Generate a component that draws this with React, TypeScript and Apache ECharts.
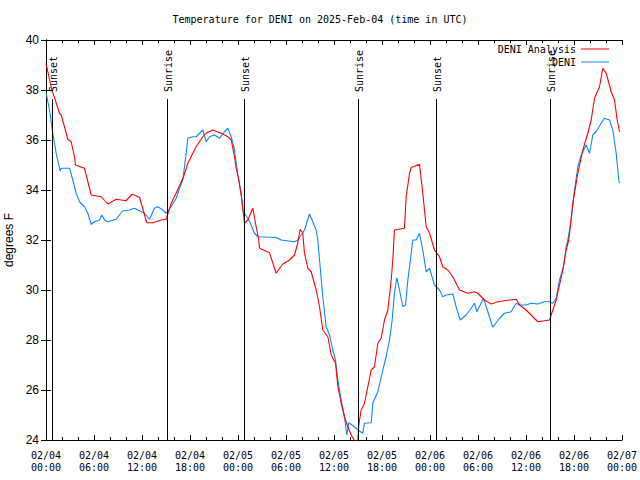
import React, { useEffect, useRef } from 'react';
import * as echarts from 'echarts';

const titleText = 'Temperature for DENI on 2025-Feb-04 (time in UTC)';
const xTickDates = ['02/04', '02/04', '02/04', '02/04', '02/05', '02/05', '02/05', '02/05', '02/06', '02/06', '02/06', '02/06', '02/07'];
const xTickTimes = ['00:00', '06:00', '12:00', '18:00', '00:00', '06:00', '12:00', '18:00', '00:00', '06:00', '12:00', '18:00', '00:00'];

// [hours since 02/04 00:00 UTC, degrees F]
const analysisData: [number, number][] = [
  [0.0, 39.07], [0.73, 38.0], [1.06, 37.7], [1.69, 37.07], [1.9, 37.0], [2.31, 36.53], [2.73, 36.03], [3.15, 35.93],
  [3.56, 35.33], [3.69, 35.0], [4.81, 34.87], [5.65, 33.8], [6.9, 33.73], [7.73, 33.44], [8.77, 33.63], [10.0, 33.57],
  [10.77, 33.83], [11.69, 33.71], [12.6, 32.69], [13.35, 32.69], [14.4, 32.8], [15.02, 32.83], [15.65, 33.47], [16.3, 33.9],
  [17.19, 34.53], [17.73, 35.07], [18.35, 35.47], [18.77, 35.73], [19.6, 36.13], [20.0, 36.27], [20.85, 36.4], [21.9, 36.27],
  [22.73, 36.13], [23.15, 36.0], [23.56, 35.33], [23.77, 34.87], [24.1, 34.4], [24.48, 33.6], [24.81, 32.67], [25.23, 32.8],
  [25.85, 33.27], [26.27, 32.53], [26.6, 32.0], [26.69, 31.67], [27.94, 31.49], [28.77, 30.67], [29.6, 31.04], [30.44, 31.2],
  [31.06, 31.4], [31.48, 31.89], [31.77, 32.43], [32.1, 32.27], [32.31, 31.47], [32.73, 30.87], [33.15, 30.73], [33.77, 30.0],
  [34.19, 29.33], [34.6, 28.4], [35.23, 28.13], [35.65, 27.4], [36.19, 27.07], [36.48, 26.13], [36.9, 25.47], [37.31, 24.93],
  [37.73, 24.53], [38.15, 24.2], [38.69, 23.9], [38.98, 24.0], [39.1, 24.6], [39.4, 25.2], [39.81, 25.47], [40.23, 26.13],
  [40.65, 26.8], [41.06, 26.93], [41.48, 27.87], [41.9, 28.07], [42.31, 28.8], [42.73, 29.2], [43.15, 30.4], [43.35, 31.2],
  [43.56, 32.4], [44.81, 32.47], [45.02, 33.73], [45.44, 34.67], [45.65, 34.9], [46.69, 35.03], [47.1, 33.87], [47.52, 32.53],
  [47.94, 32.27], [48.56, 31.6], [49.19, 31.33], [49.6, 30.93], [50.23, 30.8], [50.85, 30.53], [51.69, 30.0], [52.73, 29.87],
  [53.56, 29.93], [53.98, 29.87], [54.81, 29.6], [55.65, 29.44], [56.48, 29.53], [57.31, 29.57], [58.77, 29.63], [59.19, 29.4],
  [60.02, 29.2], [60.85, 28.93], [61.48, 28.73], [62.31, 28.77], [62.94, 28.8], [63.35, 29.2], [63.77, 29.6], [64.19, 30.2],
  [64.6, 30.8], [65.02, 31.6], [65.35, 32.0], [65.85, 33.47], [66.48, 34.67], [67.1, 35.6], [67.73, 36.27], [68.15, 36.8],
  [68.56, 37.67], [69.19, 38.13], [69.6, 38.87], [70.02, 38.67], [70.65, 37.93], [71.06, 37.6], [71.4, 36.8], [71.69, 36.33],
];

const deniData: [number, number][] = [
  [0.02, 37.87], [0.44, 37.2], [0.85, 36.27], [1.27, 35.47], [1.77, 34.76], [1.9, 34.87], [2.94, 34.87], [3.35, 34.4],
  [3.77, 33.87], [4.19, 33.53], [4.81, 33.33], [5.23, 33.07], [5.65, 32.63], [6.06, 32.73], [6.69, 32.8], [6.98, 33.0],
  [7.31, 32.8], [7.73, 32.73], [8.77, 32.83], [9.6, 33.17], [10.44, 33.2], [11.06, 33.27], [11.69, 33.17], [12.31, 33.07],
  [12.94, 32.83], [13.56, 33.27], [13.98, 33.33], [14.6, 33.2], [15.02, 33.07], [15.65, 33.33], [16.27, 33.67], [16.69, 34.07],
  [17.1, 34.4], [17.52, 35.47], [17.73, 36.07], [18.35, 36.13], [18.77, 36.13], [19.19, 36.27], [19.6, 36.4], [20.02, 35.93],
  [20.44, 36.13], [21.06, 36.2], [21.69, 36.07], [22.31, 36.33], [22.73, 36.47], [23.15, 36.13], [23.56, 35.6], [23.98, 34.6],
  [24.4, 33.87], [24.6, 33.2], [24.81, 33.07], [25.23, 32.87], [25.65, 32.6], [26.06, 32.27], [26.48, 32.13], [28.77, 32.1],
  [29.4, 32.0], [31.06, 31.93], [31.48, 32.0], [32.31, 32.4], [32.94, 33.04], [33.35, 32.73], [33.77, 32.4], [33.98, 32.0],
  [34.19, 31.2], [34.6, 29.73], [35.02, 28.53], [35.44, 28.2], [35.85, 27.6], [36.19, 27.2], [36.48, 26.4], [36.9, 25.6],
  [37.31, 24.93], [37.6, 24.2], [37.85, 24.69], [38.56, 24.53], [38.98, 24.4], [39.6, 24.27], [39.81, 24.67], [40.65, 24.69],
  [40.85, 25.47], [41.48, 25.93], [42.1, 26.8], [42.52, 27.33], [42.94, 28.0], [43.27, 28.8], [43.56, 29.87], [43.85, 30.5],
  [44.19, 30.0], [44.6, 29.33], [44.94, 29.4], [45.23, 30.4], [45.65, 31.47], [45.85, 32.0], [46.27, 32.0], [46.69, 32.27],
  [47.1, 31.6], [47.52, 30.73], [47.94, 30.87], [48.56, 30.2], [49.19, 30.0], [49.6, 29.73], [50.02, 29.8], [50.85, 29.84],
  [51.27, 29.33], [51.77, 28.8], [52.52, 29.0], [53.15, 29.27], [53.56, 29.47], [53.85, 29.13], [54.69, 29.67], [55.23, 29.13],
  [55.85, 28.51], [56.69, 28.87], [57.31, 29.07], [58.15, 29.13], [58.77, 29.47], [59.19, 29.4], [60.02, 29.4], [60.65, 29.47],
  [61.48, 29.44], [62.31, 29.53], [62.94, 29.53], [63.35, 29.47], [63.77, 29.67], [64.19, 30.4], [64.69, 30.93], [65.02, 31.73],
  [65.23, 32.0], [65.65, 32.8], [66.06, 34.0], [66.48, 34.93], [66.9, 35.4], [67.52, 35.8], [67.94, 35.47], [68.35, 36.2],
  [68.77, 36.33], [69.4, 36.67], [69.81, 36.87], [70.44, 36.8], [70.85, 36.4], [71.27, 35.47], [71.6, 34.4], [71.69, 34.27],
];

const sunEventHours = [0.72, 15.1, 24.72, 39.0, 48.72, 63.0];
const sunEventLabels = ['Sunset', 'Sunrise', 'Sunset', 'Sunrise', 'Sunset', 'Sunrise'];

const MONO = '"DejaVu Sans Mono", "Liberation Mono", monospace';
const SANS = '"Liberation Sans", Arial, sans-serif';
const Y_MIN = 24;
const Y_MAX = 40;
const RED = '#ff0000';
const BLUE = '#0a86ff';

export default function App() {
  const ref = useRef<HTMLDivElement>(null);
  useEffect(() => {
    if (!ref.current) return;
    const chart = echarts.init(ref.current, null, { renderer: 'svg' });

    const xAxisBase = {
      type: 'value',
      min: 0,
      max: 72,
      interval: 6,
      axisLine: { show: true, lineStyle: { color: '#000', width: 1 } },
      axisTick: { show: true, inside: true, length: 5, lineStyle: { color: '#000' } },
      minorTick: { show: true, splitNumber: 3, length: 3, lineStyle: { color: '#000' } },
      splitLine: { show: false },
      minorSplitLine: { show: false },
    };
    const yAxisBase = {
      type: 'value',
      min: Y_MIN,
      max: Y_MAX,
      interval: 2,
      axisLine: { show: true, lineStyle: { color: '#000', width: 1 } },
      axisTick: { show: true, inside: true, length: 5, lineStyle: { color: '#000' } },
      splitLine: { show: false },
    };
    const legendBase = {
      orient: 'vertical',
      align: 'right',
      right: 31,
      padding: 0,
      icon: 'rect',
      itemWidth: 28,
      itemHeight: 1,
      textStyle: { fontFamily: MONO, fontSize: 10, color: '#000' },
    };

    chart.setOption({
      animation: false,
      backgroundColor: '#fff',
      title: {
        text: titleText,
        left: 'center',
        top: 14,
        padding: 0,
        textStyle: { fontFamily: MONO, fontSize: 10, fontWeight: 'normal', color: '#000' },
      },
      legend: [
        { ...legendBase, data: ['DENI Analysis'], top: 44 },
        { ...legendBase, data: ['DENI'], top: 57 },
      ],
      grid: { left: 46, top: 40, width: 576, height: 400, containLabel: false, outerBoundsMode: 'none' },
      xAxis: [
        {
          ...xAxisBase,
          position: 'bottom',
          axisLabel: {
            show: true,
            margin: 9,
            fontFamily: MONO,
            fontSize: 10,
            lineHeight: 12,
            color: '#000',
            showMinLabel: true,
            showMaxLabel: true,
            formatter: (v: number) => {
              const i = Math.round(v / 6);
              return `${xTickDates[i]}\n${xTickTimes[i]}`;
            },
          },
        },
        { ...xAxisBase, position: 'top', axisLabel: { show: false } },
      ],
      yAxis: [
        {
          ...yAxisBase,
          position: 'left',
          name: 'degrees F',
          nameLocation: 'middle',
          nameRotate: 90,
          nameGap: 29,
          nameTextStyle: { fontFamily: SANS, fontSize: 12, color: '#000' },
          axisLabel: { show: true, margin: 7, fontFamily: SANS, fontSize: 12, color: '#000' },
        },
        { ...yAxisBase, position: 'right', axisLabel: { show: false } },
      ],
      series: [
        {
          name: 'DENI Analysis',
          type: 'line',
          xAxisIndex: 0,
          yAxisIndex: 0,
          data: analysisData,
          showSymbol: false,
          symbol: 'none',
          clip: true,
          lineStyle: { color: RED, width: 1.1 },
          itemStyle: { color: RED },
          z: 3,
        },
        {
          name: 'DENI',
          type: 'line',
          xAxisIndex: 0,
          yAxisIndex: 0,
          data: deniData,
          showSymbol: false,
          symbol: 'none',
          clip: true,
          lineStyle: { color: BLUE, width: 1.1 },
          itemStyle: { color: BLUE },
          z: 2,
        },
        {
          name: 'sun',
          type: 'custom',
          xAxisIndex: 0,
          yAxisIndex: 0,
          data: sunEventHours.map((h, i) => [h, i]),
          clip: false,
          z: 4,
          silent: true,
          renderItem: (params: any, api: any) => {
            const h = api.value(0);
            const top = api.coord([h, Y_MAX]);
            const bottom = api.coord([h, Y_MIN]);
            const x = Math.round(top[0]) + 0.5;
            const lineTop = top[1] + 59;
            return {
              type: 'group',
              children: [
                {
                  type: 'line',
                  shape: { x1: x, y1: lineTop, x2: x, y2: bottom[1] },
                  style: { stroke: '#000', lineWidth: 1 },
                },
                {
                  type: 'text',
                  x: x + 1,
                  y: lineTop - 7,
                  rotation: Math.PI / 2,
                  style: {
                    text: sunEventLabels[params.dataIndex],
                    fill: '#000',
                    font: `10px ${MONO}`,
                    align: 'left',
                    verticalAlign: 'middle',
                  },
                },
              ],
            };
          },
        },
      ],
    });
    return () => chart.dispose();
  }, []);

  return (
    <div
      ref={ref}
      style={{ position: 'fixed', left: 0, top: 0, width: 640, height: 480, background: '#fff' }}
    />
  );
}
